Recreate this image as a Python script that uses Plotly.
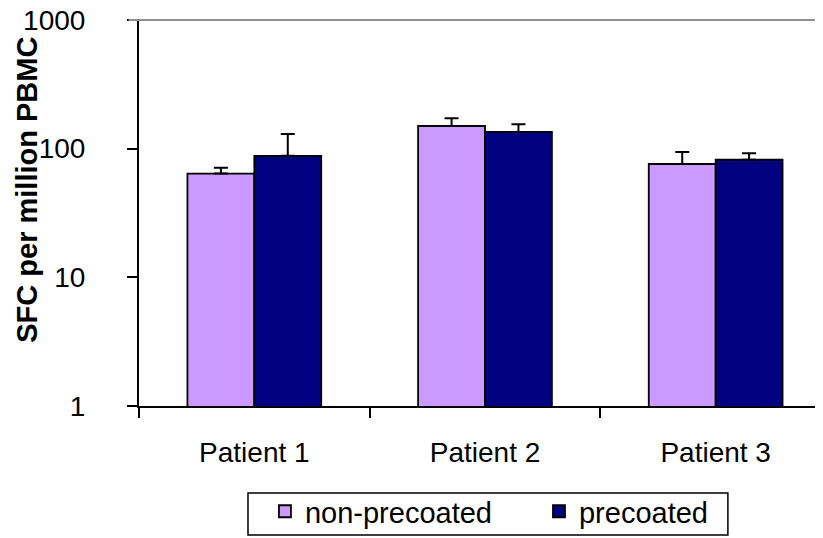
import plotly.graph_objects as go

categories = ["Patient 1", "Patient 2", "Patient 3"]
non_precoated = [64, 150, 76]
non_precoated_err = [7, 22, 18]
precoated = [88, 135, 82]
precoated_err = [42, 20, 10]
y_ticks = [1, 10, 100, 1000]
y_tick_labels = ["1", "10", "100", "1000"]

FONT = "Liberation Sans, Arial, sans-serif"
FS = 28
LFS = 29

fig = go.Figure()
fig.add_trace(go.Bar(
    name="non-precoated", x=categories, y=non_precoated, legend="legend",
    marker=dict(color="#CC99FF", line=dict(color="black", width=1.8)),
    error_y=dict(type="data", array=non_precoated_err, symmetric=False,
                 arrayminus=[0, 0, 0], color="black", thickness=2, width=7),
))
fig.add_trace(go.Bar(
    name="precoated", x=categories, y=precoated, legend="legend2",
    marker=dict(color="#000080", line=dict(color="black", width=1.8)),
    error_y=dict(type="data", array=precoated_err, symmetric=False,
                 arrayminus=[0, 0, 0], color="black", thickness=2, width=7),
))

leg_common = dict(orientation="h", xanchor="left", yanchor="top", y=-0.207,
                  borderwidth=0, font=dict(size=LFS, family=FONT),
                  bgcolor="rgba(0,0,0,0)")

fig.update_layout(
    width=823, height=538,
    margin=dict(l=131, r=0, t=12, b=140, autoexpand=False),
    paper_bgcolor="white", plot_bgcolor="white",
    barmode="group", bargap=0.42, bargroupgap=0,
    font=dict(family=FONT, size=FS, color="black"),
    showlegend=True,
    legend=dict(x=0.182, **leg_common),
    legend2=dict(x=0.578, **leg_common),
    xaxis=dict(
        range=[-0.5, 2.5], showline=True, linecolor="black", linewidth=2,
        ticks="outside", tickson="boundaries", ticklen=10, tickwidth=2,
        tickcolor="black", showgrid=False, ticklabelstandoff=20,
        tickfont=dict(size=FS, family=FONT),
    ),
    yaxis=dict(
        type="log", range=[0, 3], tickvals=y_ticks, ticktext=y_tick_labels,
        showline=True, linecolor="black", linewidth=2, ticks="outside",
        ticklen=10, tickwidth=2, tickcolor="black", showgrid=False,
        ticklabelstandoff=36, tickfont=dict(size=FS, family=FONT),
        zeroline=False, ticklabeloverflow="allow",
    ),
    shapes=[
        dict(type="line", xref="paper", yref="paper", x0=-0.015, x1=1,
             y0=1, y1=1, line=dict(color="#909090", width=2)),
        dict(type="rect", xref="paper", yref="paper", x0=0.1575, x1=0.851,
             y0=-0.334, y1=-0.2254, line=dict(color="black", width=1.5)),
    ],
    annotations=[dict(
        text="<b>SFC per million PBMC</b>", xref="paper", yref="paper",
        x=-0.162, y=0.56, textangle=-90, showarrow=False,
        font=dict(size=LFS, family=FONT), xanchor="center", yanchor="middle",
    )],
)

fig.write_html("out.html")
